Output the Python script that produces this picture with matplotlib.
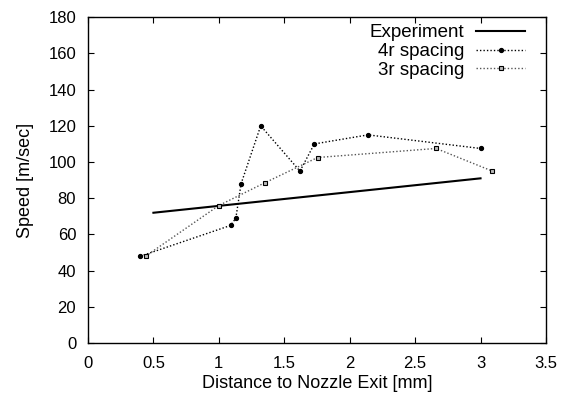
import matplotlib
matplotlib.use("Agg")
import matplotlib.pyplot as plt

plt.rcParams['font.family'] = ['Liberation Sans', 'DejaVu Sans']

exp_x = [0.5, 3.0]
exp_y = [72, 91]

r4_x = [0.40, 1.09, 1.13, 1.17, 1.32, 1.62, 1.73, 2.14, 3.00]
r4_y = [48, 65, 69, 88, 120, 95, 110, 115, 107.5]

r3_x = [0.44, 1.00, 1.35, 1.755, 2.66, 3.09]
r3_y = [48, 76, 88.5, 102.5, 107.5, 95]

xticks = [0, 0.5, 1, 1.5, 2, 2.5, 3, 3.5]
xticklabels = ['0', '0.5', '1', '1.5', '2', '2.5', '3', '3.5']
yticks = list(range(0, 181, 20))

fig = plt.figure(figsize=(5.64, 3.99), dpi=100)
ax = fig.add_axes([0.156, 0.140, 0.812, 0.817])

ax.plot(exp_x, exp_y, color='black', lw=1.5, label='Experiment')
ax.plot(r4_x, r4_y, color='black', lw=1.0, ls=(0, (1, 1.5)), marker='o',
        ms=2.8, mfc='black', mec='black', label='4r spacing')
ax.plot(r3_x, r3_y, color='#555555', lw=1.0, ls=(0, (1, 1.5)), marker='s',
        ms=3.5, mfc='#bbbbbb', mec='black', mew=0.8, label='3r spacing')

ax.set_xlim(0, 3.5)
ax.set_ylim(0, 180)
ax.set_xticks(xticks)
ax.set_xticklabels(xticklabels)
ax.set_yticks(yticks)
ax.tick_params(direction='in', top=True, right=True, labelsize=12, length=4)
ax.tick_params(axis='y', pad=8.5)
ax.tick_params(axis='x', pad=9)
for s in ax.spines.values():
    s.set_linewidth(1.0)

ax.set_xlabel('Distance to Nozzle Exit [mm]', fontsize=13, labelpad=3)
ax.set_ylabel('Speed [m/sec]', fontsize=13, labelpad=10)

leg = ax.legend(loc='upper right', bbox_to_anchor=(0.954, 0.978),
                frameon=False, fontsize=13.5, markerfirst=False,
                handlelength=2.6, handletextpad=0.64, labelspacing=0.08,
                borderpad=0.0, borderaxespad=0.0)
for t in leg.get_texts():
    t.set_ha('right')

fig.savefig('out.png', dpi=100)
